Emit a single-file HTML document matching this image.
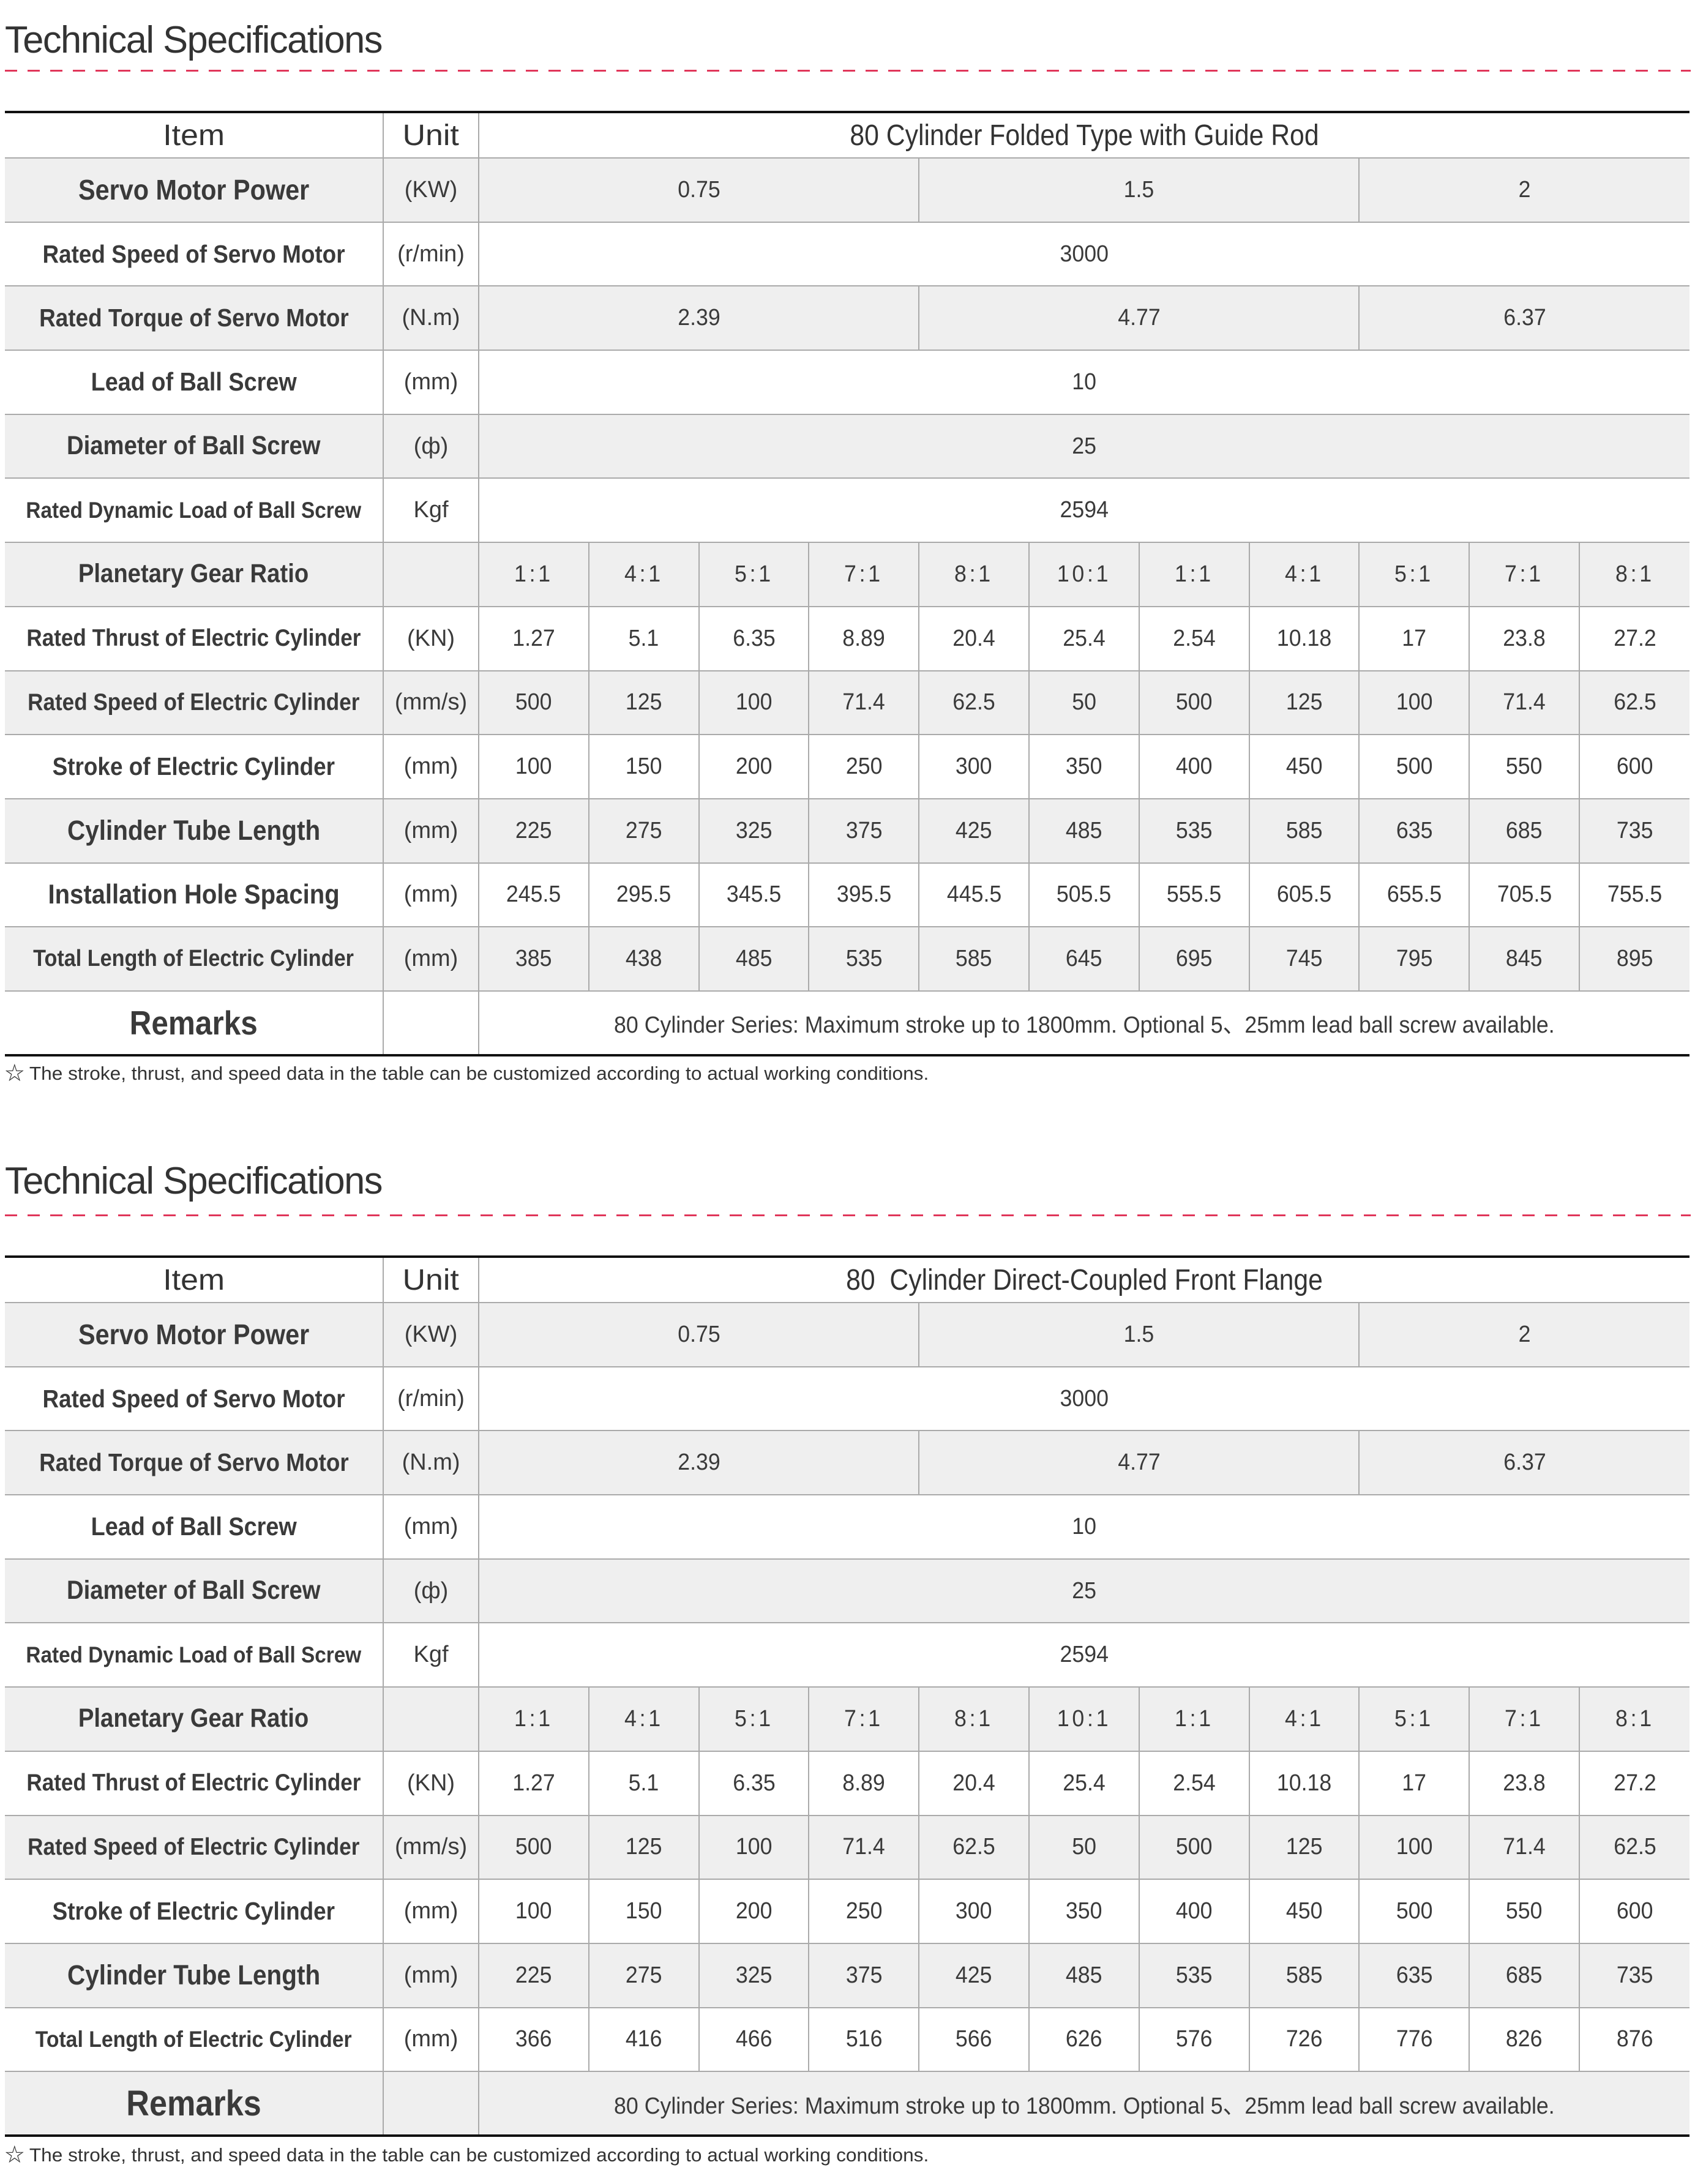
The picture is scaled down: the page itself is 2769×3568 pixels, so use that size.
<!DOCTYPE html>
<html><head><meta charset="utf-8"><style>
*{margin:0;padding:0;box-sizing:border-box}
body{width:2769px;height:3568px;background:#fff;position:relative;font-family:"Liberation Sans","Noto Sans CJK SC",sans-serif;color:#3a3a3a;overflow:hidden}
.title{position:absolute;left:8px;font-size:62px;font-weight:300;color:#333;letter-spacing:-1.5px;transform:scaleX(.99);transform-origin:left}
.dash{position:absolute;left:8px;width:2754px;height:3px;background:repeating-linear-gradient(90deg,#e0365a 0 20px,transparent 20px 37px)}
.foot{position:absolute;left:8px;font-size:31px;color:#333;transform:scaleX(1.02);transform-origin:left;white-space:nowrap}
table{position:absolute;left:8px;width:2752px;border-collapse:collapse;table-layout:fixed;border-top:4px solid #111;border-bottom:4px solid #111}
td{border:2px solid #aaa;text-align:center;vertical-align:middle;height:104.7px;font-size:38px;white-space:nowrap;overflow:visible}
td:first-child{border-left:none}
td:last-child{border-right:none}
tr.h td{height:75px;font-size:48px;font-weight:300;color:#333}
tr.g td{background:#efefef}
td.l{font-weight:bold;color:#3a3a3a}
.c{display:inline-block;transform:scaleX(.94)}
td.l .c{transform:scaleX(.9)}
td.u .c{transform:scaleX(1)}
tr.h td.u .c{transform:scaleX(1.08)}
tr.h td.t .c{transform:scaleX(.89)}
.r2{letter-spacing:5px}
</style></head><body>

<div class="title" style="top:30px">Technical Specifications</div>
<div class="dash" style="top:114px"></div>

<table style="top:181px">
<colgroup><col style="width:618px"><col style="width:156px"><col span="11" style="width:179.8px"></colgroup>
<tr class="h"><td class="u"><span class="c">Item</span></td><td class="u"><span class="c">Unit</span></td><td colspan="11" class="t"><span class="c">80 Cylinder Folded Type with Guide Rod</span></td></tr>
<tr class="g"><td class="l" style="font-size:46px"><span class="c">Servo Motor Power</span></td><td class="u"><span class="c">(KW)</span></td><td colspan="4"><span class="c">0.75</span></td><td colspan="4"><span class="c">1.5</span></td><td colspan="3"><span class="c">2</span></td></tr>
<tr><td class="l" style="font-size:41px"><span class="c">Rated Speed of Servo Motor</span></td><td class="u"><span class="c">(r/min)</span></td><td colspan="11"><span class="c">3000</span></td></tr>
<tr class="g"><td class="l" style="font-size:41px"><span class="c">Rated Torque of Servo Motor</span></td><td class="u"><span class="c">(N.m)</span></td><td colspan="4"><span class="c">2.39</span></td><td colspan="4"><span class="c">4.77</span></td><td colspan="3"><span class="c">6.37</span></td></tr>
<tr><td class="l" style="font-size:42px"><span class="c">Lead of Ball Screw</span></td><td class="u"><span class="c">(mm)</span></td><td colspan="11"><span class="c">10</span></td></tr>
<tr class="g"><td class="l" style="font-size:42.5px"><span class="c">Diameter of Ball Screw</span></td><td class="u"><span class="c">(ф)</span></td><td colspan="11"><span class="c">25</span></td></tr>
<tr><td class="l" style="font-size:37px"><span class="c">Rated Dynamic Load of Ball Screw</span></td><td class="u"><span class="c">Kgf</span></td><td colspan="11"><span class="c">2594</span></td></tr>
<tr class="g"><td class="l" style="font-size:42.5px"><span class="c">Planetary Gear Ratio</span></td><td></td><td><span class="c r2">1:1</span></td><td><span class="c r2">4:1</span></td><td><span class="c r2">5:1</span></td><td><span class="c r2">7:1</span></td><td><span class="c r2">8:1</span></td><td><span class="c r2">10:1</span></td><td><span class="c r2">1:1</span></td><td><span class="c r2">4:1</span></td><td><span class="c r2">5:1</span></td><td><span class="c r2">7:1</span></td><td><span class="c r2">8:1</span></td></tr>
<tr><td class="l" style="font-size:39px"><span class="c">Rated Thrust of Electric Cylinder</span></td><td class="u"><span class="c">(KN)</span></td><td><span class="c">1.27</span></td><td><span class="c">5.1</span></td><td><span class="c">6.35</span></td><td><span class="c">8.89</span></td><td><span class="c">20.4</span></td><td><span class="c">25.4</span></td><td><span class="c">2.54</span></td><td><span class="c">10.18</span></td><td><span class="c">17</span></td><td><span class="c">23.8</span></td><td><span class="c">27.2</span></td></tr>
<tr class="g"><td class="l" style="font-size:39px"><span class="c">Rated Speed of Electric Cylinder</span></td><td class="u"><span class="c">(mm/s)</span></td><td><span class="c">500</span></td><td><span class="c">125</span></td><td><span class="c">100</span></td><td><span class="c">71.4</span></td><td><span class="c">62.5</span></td><td><span class="c">50</span></td><td><span class="c">500</span></td><td><span class="c">125</span></td><td><span class="c">100</span></td><td><span class="c">71.4</span></td><td><span class="c">62.5</span></td></tr>
<tr><td class="l" style="font-size:41px"><span class="c">Stroke of Electric Cylinder</span></td><td class="u"><span class="c">(mm)</span></td><td><span class="c">100</span></td><td><span class="c">150</span></td><td><span class="c">200</span></td><td><span class="c">250</span></td><td><span class="c">300</span></td><td><span class="c">350</span></td><td><span class="c">400</span></td><td><span class="c">450</span></td><td><span class="c">500</span></td><td><span class="c">550</span></td><td><span class="c">600</span></td></tr>
<tr class="g"><td class="l" style="font-size:45px"><span class="c">Cylinder Tube Length</span></td><td class="u"><span class="c">(mm)</span></td><td><span class="c">225</span></td><td><span class="c">275</span></td><td><span class="c">325</span></td><td><span class="c">375</span></td><td><span class="c">425</span></td><td><span class="c">485</span></td><td><span class="c">535</span></td><td><span class="c">585</span></td><td><span class="c">635</span></td><td><span class="c">685</span></td><td><span class="c">735</span></td></tr>
<tr><td class="l" style="font-size:44.5px"><span class="c">Installation Hole Spacing</span></td><td class="u"><span class="c">(mm)</span></td><td><span class="c">245.5</span></td><td><span class="c">295.5</span></td><td><span class="c">345.5</span></td><td><span class="c">395.5</span></td><td><span class="c">445.5</span></td><td><span class="c">505.5</span></td><td><span class="c">555.5</span></td><td><span class="c">605.5</span></td><td><span class="c">655.5</span></td><td><span class="c">705.5</span></td><td><span class="c">755.5</span></td></tr>
<tr class="g"><td class="l" style="font-size:38px"><span class="c">Total Length of Electric Cylinder</span></td><td class="u"><span class="c">(mm)</span></td><td><span class="c">385</span></td><td><span class="c">438</span></td><td><span class="c">485</span></td><td><span class="c">535</span></td><td><span class="c">585</span></td><td><span class="c">645</span></td><td><span class="c">695</span></td><td><span class="c">745</span></td><td><span class="c">795</span></td><td><span class="c">845</span></td><td><span class="c">895</span></td></tr>
<tr><td class="l" style="font-size:55px"><span class="c">Remarks</span></td><td></td><td colspan="11"><span class="c">80 Cylinder Series: Maximum stroke up to 1800mm. Optional 5、25mm lead ball screw available.</span></td></tr>
</table>
<div class="foot" style="top:1728px">☆ The stroke, thrust, and speed data in the table can be customized according to actual working conditions.</div>

<div class="title" style="top:1894px">Technical Specifications</div>
<div class="dash" style="top:1984px"></div>

<table style="top:2051px">
<colgroup><col style="width:618px"><col style="width:156px"><col span="11" style="width:179.8px"></colgroup>
<tr class="h"><td class="u"><span class="c">Item</span></td><td class="u"><span class="c">Unit</span></td><td colspan="11" class="t"><span class="c">80&nbsp; Cylinder Direct-Coupled Front Flange</span></td></tr>
<tr class="g"><td class="l" style="font-size:46px"><span class="c">Servo Motor Power</span></td><td class="u"><span class="c">(KW)</span></td><td colspan="4"><span class="c">0.75</span></td><td colspan="4"><span class="c">1.5</span></td><td colspan="3"><span class="c">2</span></td></tr>
<tr><td class="l" style="font-size:41px"><span class="c">Rated Speed of Servo Motor</span></td><td class="u"><span class="c">(r/min)</span></td><td colspan="11"><span class="c">3000</span></td></tr>
<tr class="g"><td class="l" style="font-size:41px"><span class="c">Rated Torque of Servo Motor</span></td><td class="u"><span class="c">(N.m)</span></td><td colspan="4"><span class="c">2.39</span></td><td colspan="4"><span class="c">4.77</span></td><td colspan="3"><span class="c">6.37</span></td></tr>
<tr><td class="l" style="font-size:42px"><span class="c">Lead of Ball Screw</span></td><td class="u"><span class="c">(mm)</span></td><td colspan="11"><span class="c">10</span></td></tr>
<tr class="g"><td class="l" style="font-size:42.5px"><span class="c">Diameter of Ball Screw</span></td><td class="u"><span class="c">(ф)</span></td><td colspan="11"><span class="c">25</span></td></tr>
<tr><td class="l" style="font-size:37px"><span class="c">Rated Dynamic Load of Ball Screw</span></td><td class="u"><span class="c">Kgf</span></td><td colspan="11"><span class="c">2594</span></td></tr>
<tr class="g"><td class="l" style="font-size:42.5px"><span class="c">Planetary Gear Ratio</span></td><td></td><td><span class="c r2">1:1</span></td><td><span class="c r2">4:1</span></td><td><span class="c r2">5:1</span></td><td><span class="c r2">7:1</span></td><td><span class="c r2">8:1</span></td><td><span class="c r2">10:1</span></td><td><span class="c r2">1:1</span></td><td><span class="c r2">4:1</span></td><td><span class="c r2">5:1</span></td><td><span class="c r2">7:1</span></td><td><span class="c r2">8:1</span></td></tr>
<tr><td class="l" style="font-size:39px"><span class="c">Rated Thrust of Electric Cylinder</span></td><td class="u"><span class="c">(KN)</span></td><td><span class="c">1.27</span></td><td><span class="c">5.1</span></td><td><span class="c">6.35</span></td><td><span class="c">8.89</span></td><td><span class="c">20.4</span></td><td><span class="c">25.4</span></td><td><span class="c">2.54</span></td><td><span class="c">10.18</span></td><td><span class="c">17</span></td><td><span class="c">23.8</span></td><td><span class="c">27.2</span></td></tr>
<tr class="g"><td class="l" style="font-size:39px"><span class="c">Rated Speed of Electric Cylinder</span></td><td class="u"><span class="c">(mm/s)</span></td><td><span class="c">500</span></td><td><span class="c">125</span></td><td><span class="c">100</span></td><td><span class="c">71.4</span></td><td><span class="c">62.5</span></td><td><span class="c">50</span></td><td><span class="c">500</span></td><td><span class="c">125</span></td><td><span class="c">100</span></td><td><span class="c">71.4</span></td><td><span class="c">62.5</span></td></tr>
<tr><td class="l" style="font-size:41px"><span class="c">Stroke of Electric Cylinder</span></td><td class="u"><span class="c">(mm)</span></td><td><span class="c">100</span></td><td><span class="c">150</span></td><td><span class="c">200</span></td><td><span class="c">250</span></td><td><span class="c">300</span></td><td><span class="c">350</span></td><td><span class="c">400</span></td><td><span class="c">450</span></td><td><span class="c">500</span></td><td><span class="c">550</span></td><td><span class="c">600</span></td></tr>
<tr class="g"><td class="l" style="font-size:45px"><span class="c">Cylinder Tube Length</span></td><td class="u"><span class="c">(mm)</span></td><td><span class="c">225</span></td><td><span class="c">275</span></td><td><span class="c">325</span></td><td><span class="c">375</span></td><td><span class="c">425</span></td><td><span class="c">485</span></td><td><span class="c">535</span></td><td><span class="c">585</span></td><td><span class="c">635</span></td><td><span class="c">685</span></td><td><span class="c">735</span></td></tr>
<tr><td class="l" style="font-size:37.5px"><span class="c">Total Length of Electric Cylinder</span></td><td class="u"><span class="c">(mm)</span></td><td><span class="c">366</span></td><td><span class="c">416</span></td><td><span class="c">466</span></td><td><span class="c">516</span></td><td><span class="c">566</span></td><td><span class="c">626</span></td><td><span class="c">576</span></td><td><span class="c">726</span></td><td><span class="c">776</span></td><td><span class="c">826</span></td><td><span class="c">876</span></td></tr>
<tr class="g"><td class="l" style="font-size:58px"><span class="c">Remarks</span></td><td></td><td colspan="11"><span class="c">80 Cylinder Series: Maximum stroke up to 1800mm. Optional 5、25mm lead ball screw available.</span></td></tr>
</table>
<div class="foot" style="top:3495px">☆ The stroke, thrust, and speed data in the table can be customized according to actual working conditions.</div>

</body></html>
